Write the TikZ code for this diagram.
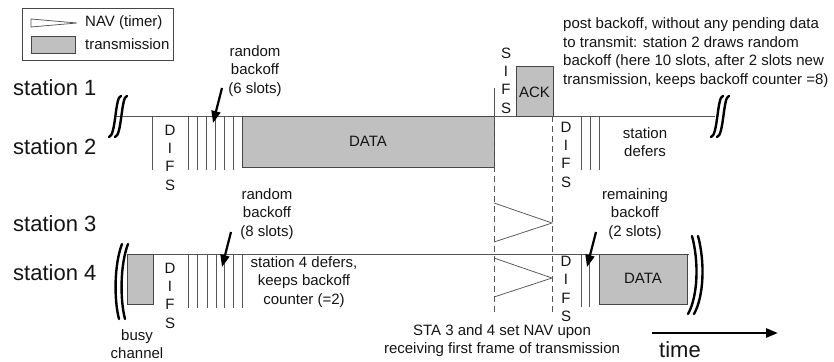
\documentclass[tikz,border=0pt]{standalone}
\usepackage{fontspec}
\setmainfont{Liberation Sans}
\usetikzlibrary{arrows.meta}
\definecolor{linec}{RGB}{85,85,85}
\definecolor{boxfill}{RGB}{192,192,192}
\definecolor{boxedge}{RGB}{70,70,70}
\definecolor{inkc}{RGB}{20,20,20}
\begin{document}
\begin{tikzpicture}[x=1pt,y=-1pt,
  lbl/.style={font=\fontsize{15}{18.5}\selectfont, align=center, inner sep=0pt, text=inkc},
  letters/.style={font=\fontsize{15}{18.3}\selectfont, align=center, inner sep=0pt, text=inkc},
  stname/.style={font=\fontsize{22}{26}\selectfont, anchor=west, inner sep=0pt, text=inkc},
  timeline/.style={draw=linec, line width=0.8pt},
  slot/.style={draw=linec, line width=0.75pt},
  frame/.style={draw=boxedge, fill=boxfill, line width=0.8pt},
  navtri/.style={draw=linec, line width=0.75pt},
  guide/.style={draw=linec, line width=0.8pt, dash pattern=on 6pt off 4pt},
  ptr/.style={draw=black, line width=2.2pt, -{Triangle[length=12pt,width=9pt]}},
  brk/.style={draw=black, line width=2.4pt, line cap=round}]
\useasboundingbox (0,0) rectangle (834,361);

% legend
\draw[draw=boxedge, line width=0.8pt] (22,8) rectangle (173,60);
\draw[navtri] (31,19) -- (31,27) -- (77,23) -- cycle;
\node[frame, minimum width=44pt, minimum height=17pt, anchor=north west, inner sep=0pt] (legbox) at (31,36) {};
\node[lbl, anchor=west] (legnav) at (85,23) {NAV (timer)};
\node[lbl, anchor=west] (legtx) at (85,44) {transmission};

% station names
\node[stname] (s1) at (13,88) {station 1};
\node[stname] (s2) at (13,147) {station 2};
\node[stname] (s3) at (13,224) {station 3};
\node[stname] (s4) at (13,273) {station 4};

% time lines
\coordinate (l12a) at (116,116); \coordinate (l12b) at (715,116);
\coordinate (l34a) at (127,254); \coordinate (l34b) at (689,254);
\draw[timeline] (l12a) -- (l12b);
\draw[timeline] (l34a) -- (l34b);

% breaks in the time lines
\foreach \dx in {0,6}{
  \draw[brk] (121+\dx,96) .. controls (115+\dx,96) and (116+\dx,136) .. (109+\dx,137);
  \draw[brk] (723+\dx,96) .. controls (717+\dx,96) and (718+\dx,136) .. (711+\dx,137);
  \draw[brk] (122+\dx,244) .. controls (114+\dx,265) and (114+\dx,300) .. (119+\dx,319);
  \draw[brk] (692+\dx,236) .. controls (699+\dx,262) and (698+\dx,296) .. (688+\dx,314);
}

% station 2: DIFS, backoff, DATA
\draw[slot] (152,116) -- (152,170);
\foreach \x in {188,197,206,215,224,233}{\draw[slot] (\x,116) -- (\x,170);}
\node[letters] (difs2) at (170,157.5) {D\\I\\F\\S};
\node[frame, minimum width=252pt, minimum height=51pt, anchor=north west, inner sep=0pt] (data2) at (242,116) {};
\node[lbl] (data2t) at (368,141) {DATA};

% station 1: SIFS and ACK
\coordinate (sifsTop) at (494,88); \coordinate (sifsBot) at (494,116);
\draw[timeline] (sifsTop) -- (sifsBot);
\node[letters] (sifs) at (506,80.5) {S\\I\\F\\S};
\node[frame, minimum width=37pt, minimum height=50pt, anchor=north west, inner sep=0pt] (ack) at (516,66) {};
\node[lbl] (ackt) at (534.5,92) {ACK};

% dashed guides
\coordinate (g1a) at (494,116); \coordinate (g1b) at (494,313);
\coordinate (g2a) at (552.5,116); \coordinate (g2b) at (552.5,313);
\draw[guide] (g1a) -- (g1b);
\draw[guide] (g2a) -- (g2b);

% station 2 after ACK
\node[letters] (difs2b) at (566,154.5) {D\\I\\F\\S};
\foreach \x in {581,590,599}{\draw[slot] (\x,116) -- (\x,170);}
\node[lbl] (defers2) at (645,142) {station\\defers};

% station 4: busy channel, DIFS, backoff
\node[frame, minimum width=26pt, minimum height=50pt, anchor=north west, inner sep=0pt] (busy) at (127,254) {};
\node[lbl] (busyt) at (137,344) {busy\\channel};
\node[letters] (difs4) at (170,295.5) {D\\I\\F\\S};
\foreach \x in {188,197,207,216,224,233,242}{\draw[slot] (\x,254) -- (\x,308);}
\node[lbl] (defers4) at (304,282) {station 4 defers,\\keeps backoff\\counter (=2)};

% NAV timers of stations 3 and 4
\draw[navtri] (494,203) -- (552,223) -- (494,242);
\draw[navtri] (494,258) -- (552,278) -- (494,297);

% station 4 after NAV
\node[letters] (difs4b) at (566,289) {D\\I\\F\\S};
\foreach \x in {581,589}{\draw[slot] (\x,254) -- (\x,307);}
\node[frame, minimum width=88pt, minimum height=50pt, anchor=north west, inner sep=0pt] (data4) at (599,254) {};
\node[lbl] (data4t) at (643,278) {DATA};

% annotations
\node[lbl] (rb6) at (255,71) {random\\backoff\\(6 slots)};
\node[lbl] (rb8) at (267,214) {random\\backoff\\(8 slots)};
\node[lbl] (rem2) at (635,214) {remaining\\backoff\\(2 slots)};
\node[lbl, align=left, anchor=west] (post) at (563,52.5) {post backoff, without any pending data\\to transmit: station 2 draws random\\backoff (here 10 slots, after 2 slots new\\transmission, keeps backoff counter =8)};
\node[lbl] (nav) at (502,340.5) {STA 3 and 4 set NAV upon\\receiving first frame of transmission};

% pointers
\coordinate (p6a) at (222,88);  \coordinate (p6b) at (213,123);
\coordinate (p8a) at (231,232); \coordinate (p8b) at (222,267);
\coordinate (p2a) at (596,232); \coordinate (p2b) at (587,267);
\draw[ptr] (p6a) -- (p6b);
\draw[ptr] (p8a) -- (p8b);
\draw[ptr] (p2a) -- (p2b);

% time axis
\coordinate (ta) at (652,333); \coordinate (tb) at (778,333);
\draw[draw=black, line width=2.6pt, -{Triangle[length=12pt,width=9pt]}] (ta) -- (tb);
\node[font=\fontsize{22}{26}\selectfont, inner sep=0pt, text=inkc] (timet) at (680,349.5) {time};
\end{tikzpicture}
\end{document}
